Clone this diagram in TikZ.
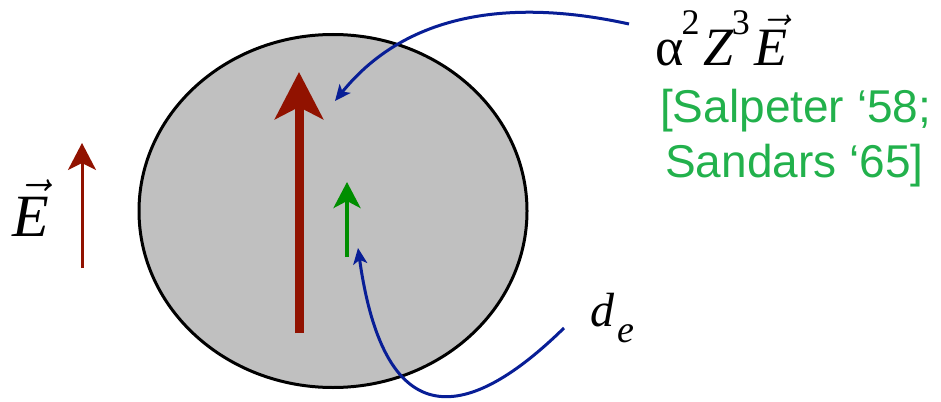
\RequirePackage{fix-cm}
\documentclass[tikz,border=0pt]{standalone}
\usepackage{fontspec}
\setmainfont{Liberation Serif}
\newfontfamily\greensans{Liberation Sans}
\newfontfamily\supfont[Scale=1]{Liberation Serif}
\usetikzlibrary{arrows.meta,shapes.geometric}
\definecolor{atomgray}{RGB}{192,192,192}
\definecolor{fieldred}{RGB}{145,18,0}
\definecolor{edmgreen}{RGB}{0,142,0}
\definecolor{refgreen}{RGB}{34,177,76}
\definecolor{pointblue}{RGB}{8,30,150}
\newcommand{\mysup}[1]{{\supfont\fontsize{36pt}{36pt}\selectfont\raisebox{31pt}{#1}}}
\newcommand{\vecE}[1]{$\vec{\mbox{\itshape E\kern#1}}\kern-#1$}
\tikzset{
  atom/.style={ellipse, draw=black, line width=3pt, fill=atomgray, inner sep=0pt,
    minimum width=388pt, minimum height=353pt},
  bigfield/.style={draw=fieldred, line width=9pt, -{Stealth[length=47pt,width=48pt,inset=12pt]}},
  smallfield/.style={draw=fieldred, line width=3pt, -{Stealth[length=27pt,width=28pt,inset=7pt]}},
  edmarrow/.style={draw=edmgreen, line width=4pt, -{Stealth[length=26pt,width=27pt,inset=7pt]}},
  pointer/.style={draw=pointblue, line width=3pt, -{Stealth[length=16pt,width=14pt,inset=4pt]}},
  lbl/.style={inner sep=0pt, anchor=base west},
  reftext/.style={inner sep=0pt, anchor=base west, text=refgreen, font=\greensans\fontsize{46}{50}\selectfont}
}
\begin{document}
\begin{tikzpicture}[x=1pt,y=-1pt]
\useasboundingbox (0,0) rectangle (941,401);
\node[atom] (atom) at (333,211) {};
% big internal field arrow
\coordinate (bigS) at (299,333);
\coordinate (bigT) at (299,72);
\draw[bigfield] (bigS) -- (bigT);
% EDM arrow
\coordinate (edmS) at (347,257);
\coordinate (edmT) at (347,182);
\draw[edmarrow] (edmS) -- (edmT);
% external field
\coordinate (extS) at (82,268);
\coordinate (extT) at (82,143);
\draw[smallfield] (extS) -- (extT);
\node[lbl, font=\fontsize{60}{64}\selectfont] (Elbl) at (12,236) {\vecE{8pt}};
% labels
\node[lbl, font=\fontsize{54}{60}\selectfont] (enh) at (655,66)
  {α\hspace{-2pt}\mysup{2}\hspace{4pt}\textit{Z}\hspace{-2pt}\mysup{3}\hspace{5pt}\vecE{8pt}};
\node[reftext] (ref1) at (660,122) {[Salpeter ‘58;};
\node[reftext] (ref2) at (665,177) {Sandars ‘65]};
\node[lbl, font=\fontsize{48}{52}\selectfont] (de) at (590,326)
  {\textit{d}\hspace{3pt}\raisebox{-16pt}{\fontsize{38}{40}\selectfont\itshape e}};
% pointers
\coordinate (p1S) at (629,24);
\coordinate (p1T) at (335,101);
\draw[pointer] (p1S) .. controls (520,0) and (410,8) .. (p1T);
\coordinate (p2S) at (564,328);
\coordinate (p2T) at (358,248);
\draw[pointer] (p2S) .. controls (470,420) and (385,440) .. (p2T);
\end{tikzpicture}
\end{document}
